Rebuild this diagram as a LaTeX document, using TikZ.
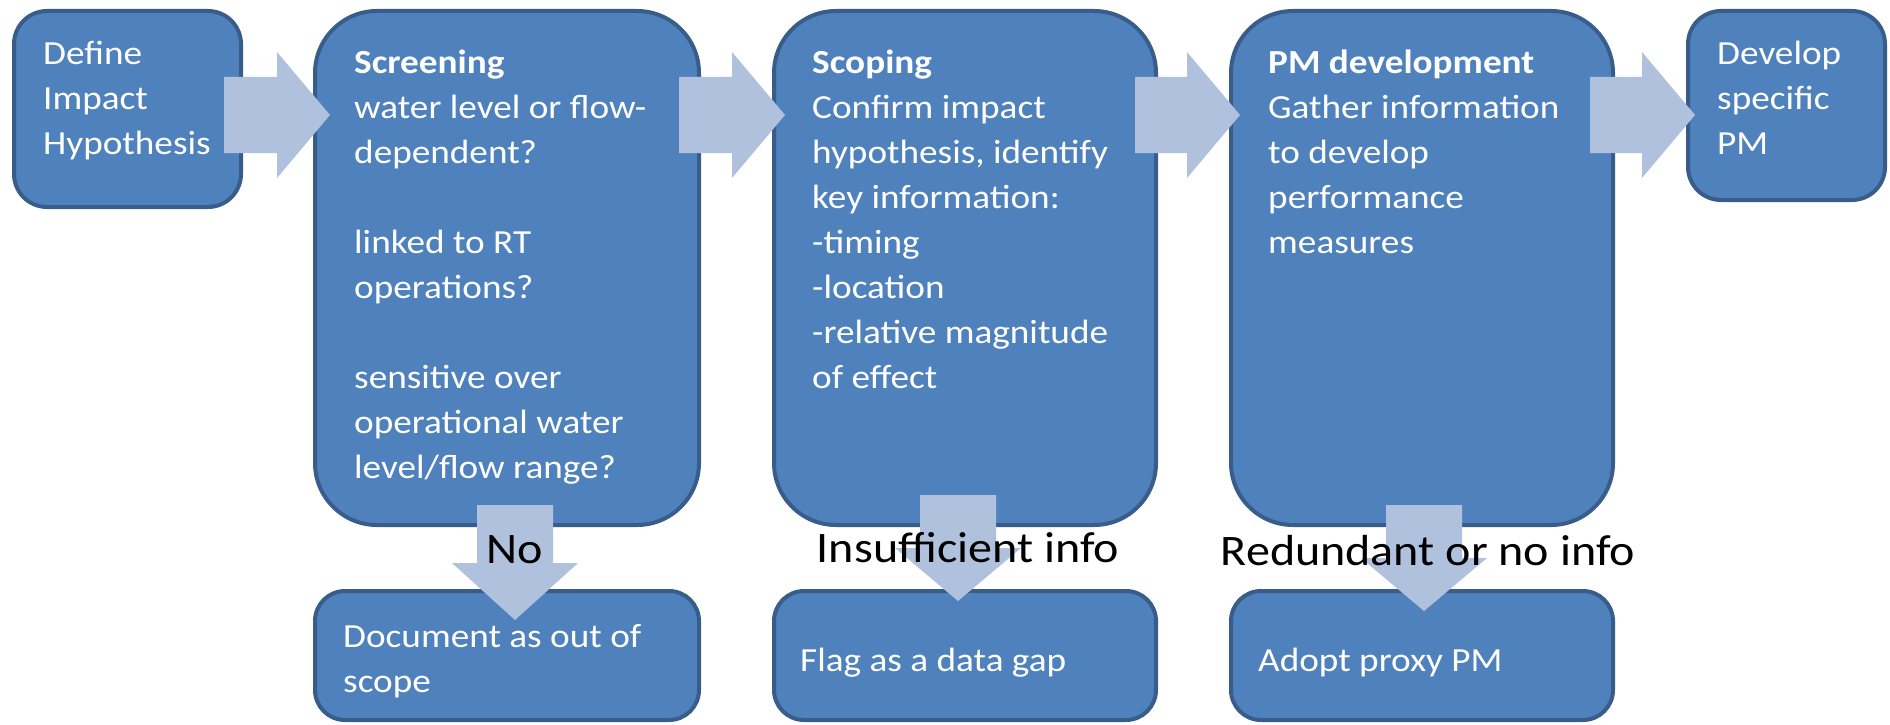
\documentclass[tikz,border=0pt]{standalone}
\usepackage{fontspec}
\setmainfont[FakeStretch=1.105]{Carlito}
\usetikzlibrary{calc}
\definecolor{boxfill}{RGB}{79,129,189}
\definecolor{boxline}{RGB}{56,93,138}
\definecolor{arrowfill}{RGB}{176,193,221}
\newcommand\mystack[1]{\vtop{\baselineskip=45pt\lineskiplimit=-1000pt\lineskip=0pt #1}}
% box from outer corners (x0,y0)-(x1,y1), radius r
\newcommand\mybox[6]{%
  \node[procbox, rounded corners=#6pt,
        minimum width={(#4-#2-4)*1pt}, minimum height={(#5-#3-4)*1pt}]
        (#1) at ({(#2+#4)/2},{(#3+#5)/2}) {};}
% right block arrow: start x, tip x, centre y
\newcommand\rarrow[3]{%
  \fill[arrowfill] (#1,{#3-38}) -- ({#2-53},{#3-38}) -- ({#2-53},{#3-63}) -- (#2,#3)
     -- ({#2-53},{#3+63}) -- ({#2-53},{#3+38}) -- (#1,{#3+38}) -- cycle;}
% down block arrow: centre x, top y, head base y, tip y
\newcommand\darrow[4]{%
  \fill[arrowfill] ({#1-38},#2) -- ({#1+38},#2) -- ({#1+38},#3) -- ({#1+63},#3) -- (#1,#4)
     -- ({#1-63},#3) -- ({#1-38},#3) -- cycle;}
\tikzset{
  procbox/.style={draw=boxline, fill=boxfill, line width=4pt, inner sep=0pt, rectangle},
  boxtext/.style={text=white, font=\fontsize{33.7}{45}\selectfont, inner sep=0pt, anchor=base west},
  lbl/.style={text=black, font=\fontsize{43.5}{50}\selectfont, inner sep=0pt, anchor=base}
}
\begin{document}
\begin{tikzpicture}[x=1pt, y=-1pt]
\useasboundingbox (0,0) rectangle (1890,725);
% boxes
\mybox{d1}{12}{9}{243}{209}{33}
\mybox{scr}{313}{9}{701}{527}{62}
\mybox{scp}{772}{9}{1158}{527}{62}
\mybox{pmd}{1229}{9}{1615}{527}{62}
\mybox{dev}{1686}{9}{1887}{202}{33}
\mybox{doc}{313}{589}{701}{722}{30}
\mybox{flag}{772}{589}{1158}{722}{30}
\mybox{adopt}{1229}{589}{1615}{722}{30}
% box texts
\node[boxtext] (t1) at (43,65) {\mystack{\hbox{Define}\hbox{Impact}\hbox{Hypothesis}}};
\node[boxtext] (t2) at (354,74) {\mystack{\hbox{\bfseries Screening}\hbox{water level or flow-}\hbox{dependent?}\hbox{}\hbox{linked to RT}\hbox{operations?}\hbox{}\hbox{sensitive over}\hbox{operational water}\hbox{level/flow range?}}};
\node[boxtext] (t3) at (812,74) {\mystack{\hbox{\bfseries Scoping}\hbox{Confirm impact}\hbox{hypothesis, identify}\hbox{key information:}\hbox{-timing}\hbox{-location}\hbox{-relative magnitude}\hbox{of effect}}};
\node[boxtext] (t4) at (1268,74) {\mystack{\hbox{\bfseries PM development}\hbox{Gather information}\hbox{to develop}\hbox{performance}\hbox{measures}}};
\node[boxtext] (t5) at (1717,65) {\mystack{\hbox{Develop}\hbox{specific}\hbox{PM}}};
\node[boxtext] (t6) at (343,647) {\mystack{\hbox{Document as out of}\hbox{scope}}};
\node[boxtext] (t7) at (800,671) {Flag as a data gap};
\node[boxtext] (t8) at (1258,671) {Adopt proxy PM};
% block arrows
\rarrow{224}{330}{115}
\rarrow{679}{785}{115}
\rarrow{1135}{1240}{115}
\rarrow{1590}{1695}{115}
\darrow{515}{505}{563}{620}
\darrow{958}{495}{548}{601}
\darrow{1424}{505}{558}{611}
% labels
\node[lbl] (l1) at (515,563) {No};
\node[lbl] (l2) at (968,562) {Insufficient info};
\node[lbl] (l3) at (1428,565) {Redundant or no info};
\end{tikzpicture}
\end{document}
